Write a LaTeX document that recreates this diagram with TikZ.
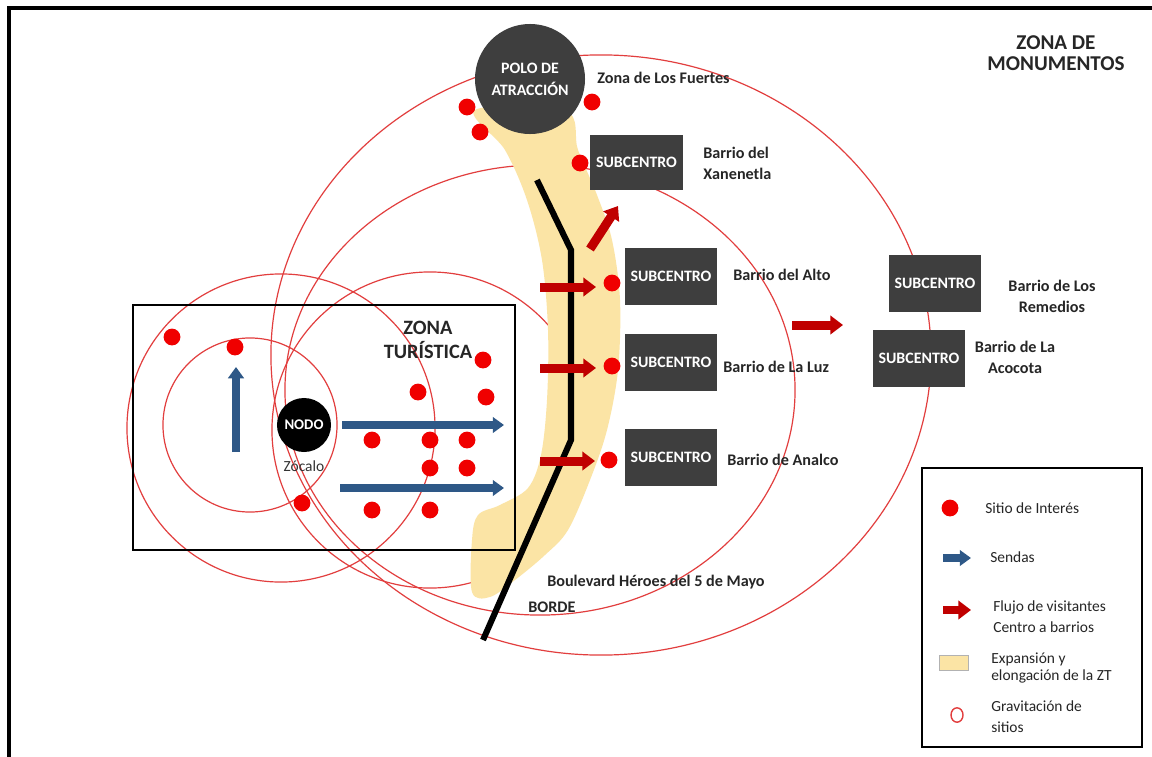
\documentclass[tikz,border=0pt]{standalone}
\usepackage{fontspec}
\setmainfont{Carlito}
\usetikzlibrary{arrows.meta}
\definecolor{dk}{RGB}{62,62,62}
\definecolor{bandc}{RGB}{251,228,165}
\definecolor{ringc}{RGB}{226,62,62}
\definecolor{dotred}{RGB}{240,0,0}
\definecolor{flowc}{RGB}{192,0,0}
\definecolor{pathc}{RGB}{46,88,135}
\begin{document}
\begin{tikzpicture}[x=0.025cm,y=-0.025cm,
  ring/.style={draw=ringc, line width=0.85pt},
  sub/.style={fill=dk, text=white, font=\bfseries\fontsize{11.3}{12}\selectfont, minimum width=2.3cm, minimum height=1.42cm, inner sep=0pt},
  dot/.style={circle, fill=dotred, minimum size=0.42cm, inner sep=0pt},
  lbl/.style={font=\bfseries\fontsize{11.5}{15}\selectfont, text=black!85, inner sep=0pt},
  ttl/.style={font=\bfseries\fontsize{14.5}{17.5}\selectfont, text=black!85, inner sep=0pt, align=center},
  leg/.style={font=\fontsize{11}{15}\selectfont, text=black!85, anchor=west, align=left, inner sep=0pt},
  flowarr/.style={draw=flowc, line width=6.4pt, -{Triangle[length=9pt,width=13pt]}},
  patharr/.style={draw=pathc, line width=5.6pt, -{Triangle[length=8pt,width=11pt]}},
]
\useasboundingbox (0,0) rectangle (1152,757);
\fill[white] (0,0) rectangle (1152,757);
% frame
\draw[line width=2.4pt] (9,757) -- (9,8) -- (1152,8);
% gravitation circles
\draw[ring] (250,425) circle[radius=2.175cm];
\draw[ring] (281,428) circle[radius=3.85cm];
\draw[ring] (430,430) circle[radius=3.95cm];
\draw[ring] (540,390) ellipse[x radius=6.375cm, y radius=5.625cm];
\draw[ring] (601,355) ellipse[x radius=8.25cm, y radius=7.5cm];
% expansion band
\fill[bandc] plot[smooth cycle, tension=0.55] coordinates {(475,110) (505,150) (527,200) (542,260) (548,330) (547,400) (541,455) (528,488) (500,505) (478,515) (472,540) (472,592) (490,597) (515,580) (545,555) (568,530) (590,480) (607,430) (618,370) (620,300) (612,240) (597,195) (578,150) (565,110)};
% borde
\coordinate (b1) at (537,180);
\coordinate (b2) at (571,250);
\coordinate (b3) at (571,440);
\coordinate (b4) at (483,640);
\draw[line width=4.3pt] (b1) -- (b2) -- (b3) -- (b4);
% zona turistica box
\draw[line width=1.8pt] (133,305) rectangle (515,550);
% polo and nodo
\node[circle, fill=dk, minimum size=2.75cm, inner sep=0pt, text=white, align=center, font=\bfseries\fontsize{11.3}{15.5}\selectfont] (polo) at (530,79) {POLO DE\\ATRACCIÓN};
\node[circle, fill=black, minimum size=1.35cm, inner sep=0pt, text=white, font=\bfseries\fontsize{10.5}{12}\selectfont] (nodo) at (304,425) {NODO};
\node[font=\fontsize{11}{13}\selectfont, text=black!80, inner sep=0pt] (zocalo) at (304,466) {Zócalo};
% subcentros
\node[sub, minimum height=1.375cm, minimum width=2.325cm] (sx) at (636.5,162.5) {SUBCENTRO};
\node[sub] (sa) at (671,276.5) {SUBCENTRO};
\node[sub] (sl) at (671,362.5) {SUBCENTRO};
\node[sub] (sn) at (671,457.5) {SUBCENTRO};
\node[sub] (sr) at (935,283.5) {SUBCENTRO};
\node[sub] (sc) at (919,358.5) {SUBCENTRO};
% sites of interest
\node[dot] (p1) at (467,107) {};
\node[dot] (p2) at (480,132) {};
\node[dot] (p3) at (592,102) {};
\node[dot] (p4) at (580,163) {};
\node[dot] (p5) at (612,283) {};
\node[dot] (p6) at (612,366) {};
\node[dot] (p7) at (609,460) {};
\node[dot] (z1) at (172,337) {};
\node[dot] (z2) at (235,347) {};
\node[dot] (z3) at (483,360) {};
\node[dot] (z4) at (418,392) {};
\node[dot] (z5) at (486,397) {};
\node[dot] (z6) at (372,440) {};
\node[dot] (z7) at (430,440) {};
\node[dot] (z8) at (467,440) {};
\node[dot] (z9) at (430,468) {};
\node[dot] (z10) at (467,468) {};
\node[dot] (z11) at (302,503) {};
\node[dot] (z12) at (372,510) {};
\node[dot] (z13) at (430,510) {};
% sendas
\coordinate (s1a) at (236,452); \coordinate (s1b) at (236,367);
\coordinate (s2a) at (342,425); \coordinate (s2b) at (504,425);
\coordinate (s3a) at (340,488); \coordinate (s3b) at (504,488);
\draw[patharr] (s1a) -- (s1b);
\draw[patharr] (s2a) -- (s2b);
\draw[patharr] (s3a) -- (s3b);
% flujo de visitantes
\coordinate (f1a) at (540,287); \coordinate (f1b) at (596,287);
\coordinate (f2a) at (540,368); \coordinate (f2b) at (596,368);
\coordinate (f3a) at (540,461); \coordinate (f3b) at (595,461);
\coordinate (f4a) at (590,249); \coordinate (f4b) at (618,206);
\coordinate (f5a) at (792,325); \coordinate (f5b) at (843,325);
\draw[flowarr] (f1a) -- (f1b);
\draw[flowarr] (f2a) -- (f2b);
\draw[flowarr] (f3a) -- (f3b);
\draw[flowarr] (f4a) -- (f4b);
\draw[flowarr] (f5a) -- (f5b);
% labels
\node[lbl, anchor=west] (lf) at (597,78) {Zona de Los Fuertes};
\node[lbl, anchor=west, align=left] (lx) at (703,163) {Barrio del\\Xanenetla};
\node[lbl, anchor=west] (la) at (733,275) {Barrio del Alto};
\node[lbl, anchor=west] (ll) at (723,367) {Barrio de La Luz};
\node[lbl, anchor=west] (ln) at (727,460) {Barrio de Analco};
\node[lbl, align=center] (lr) at (1052,296) {Barrio de Los\\Remedios};
\node[lbl, align=center] (lc) at (1015,357) {Barrio de La\\Acocota};
\node[ttl, font=\bfseries\fontsize{15}{14.5}\selectfont] (zm) at (1056,53) {ZONA DE\\MONUMENTOS};
\node[ttl] (zt) at (428,340) {ZONA\\TURÍSTICA};
\node[lbl, anchor=west] (blv) at (547,582) {Boulevard Héroes del 5 de Mayo};
\node[lbl, anchor=west] (brd) at (528,607) {BORDE};
% legend
\draw[line width=2pt] (922,468) rectangle (1142,747);
\node[dot] (ld) at (950,508) {};
\node[leg] (lt1) at (985,508) {Sitio de Interés};
\coordinate (la1) at (943,558); \coordinate (la2) at (971,558);
\draw[patharr, line width=5pt] (la1) -- (la2);
\node[leg] (lt2) at (990,557) {Sendas};
\coordinate (lb1) at (943,610); \coordinate (lb2) at (971,610);
\draw[flowarr, line width=5pt] (lb1) -- (lb2);
\node[leg] (lt3) at (993,617) {Flujo de visitantes\\Centro a barrios};
\draw[fill=bandc, draw=black!30] (939,655) rectangle (968,670);
\node[leg, font=\fontsize{11}{12.5}\selectfont] (lt4) at (991,668) {Expansión y\\elongación de la ZT};
\draw[ring, line width=1pt] (957,715) ellipse[x radius=0.15cm, y radius=0.18cm];
\node[leg] (lt5) at (991,717) {Gravitación de\\sitios};
\end{tikzpicture}
\end{document}
